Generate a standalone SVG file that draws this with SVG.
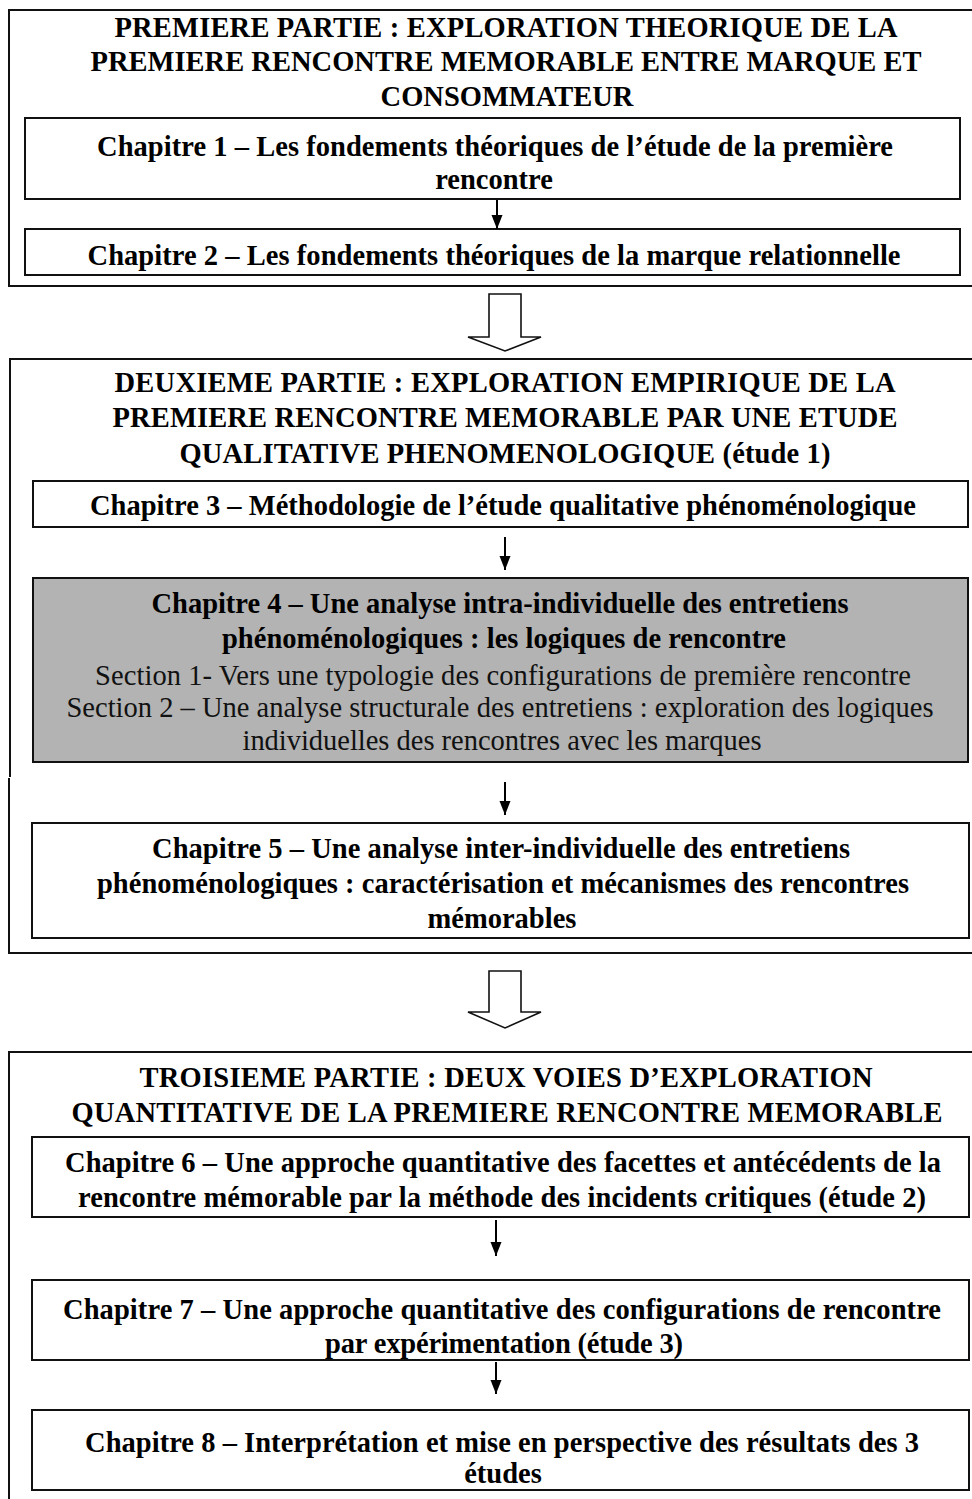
<svg xmlns="http://www.w3.org/2000/svg" width="972" height="1499" viewBox="0 0 972 1499">
  <style>
    .part { fill: none; stroke: #111; stroke-width: 2; }
    .box { fill: #fff; stroke: #111; stroke-width: 2; }
    .box.shaded { fill: #b3b3b3; }
    .t { font-family: "Liberation Serif", "Times New Roman", serif; font-size: 28.5px; font-weight: bold; fill: #000; text-anchor: middle; }
    .s { font-family: "Liberation Serif", "Times New Roman", serif; font-size: 28.5px; font-weight: normal; fill: #111; text-anchor: middle; }
    .link { stroke: #000; stroke-width: 2; fill: none; marker-end: url(#head); }
    .big { fill: #fff; stroke: #111; stroke-width: 1.6; stroke-linejoin: miter; }
  </style>
  <defs>
    <marker id="head" markerUnits="userSpaceOnUse" markerWidth="15" markerHeight="12" refX="14" refY="6" orient="auto" viewBox="0 0 15 12">
      <path d="M0,0.5 L14,6 L0,11.5 Z" fill="#000"/>
    </marker>
  </defs>
  <rect width="972" height="1499" fill="#fff"/>

  <!-- Part one -->
  <g id="part1">
    <rect class="part" x="9" y="10" width="1000" height="276"/>
    <text class="t" x="506" y="37" textLength="783">PREMIERE PARTIE : EXPLORATION THEORIQUE DE LA</text>
    <text class="t" x="506" y="71" textLength="831">PREMIERE RENCONTRE MEMORABLE ENTRE MARQUE ET</text>
    <text class="t" x="507" y="106">CONSOMMATEUR</text>
  </g>
  <g id="chap1">
    <rect class="box" x="25" y="118" width="935" height="81"/>
    <text class="t" x="495" y="156" textLength="796">Chapitre 1 – Les fondements théoriques de l’étude de la première</text>
    <text class="t" x="494" y="189">rencontre</text>
  </g>
  <g id="chap2">
    <rect class="box" x="25" y="229" width="935" height="46"/>
    <text class="t" x="494" y="265" textLength="813">Chapitre 2 – Les fondements théoriques de la marque relationnelle</text>
  </g>

  <!-- Part two -->
  <g id="part2">
    <path class="part" d="M1010,359 H10 V777 M9,778 V953 H1010"/>
    <text class="t" x="505" y="392" textLength="781">DEUXIEME PARTIE : EXPLORATION EMPIRIQUE DE LA</text>
    <text class="t" x="505" y="427" textLength="785">PREMIERE RENCONTRE MEMORABLE PAR UNE ETUDE</text>
    <text class="t" x="505" y="463" textLength="651">QUALITATIVE PHENOMENOLOGIQUE (étude 1)</text>
  </g>
  <g id="chap3">
    <rect class="box" x="33" y="481" width="935" height="46"/>
    <text class="t" x="503" y="515" textLength="826">Chapitre 3 – Méthodologie de l’étude qualitative phénoménologique</text>
  </g>
  <g id="chap4">
    <rect class="box shaded" x="33" y="578" width="935" height="184"/>
    <text class="t" x="500" y="613" textLength="697">Chapitre 4 – Une analyse intra-individuelle des entretiens</text>
    <text class="t" x="504" y="648" textLength="564">phénoménologiques : les logiques de rencontre</text>
    <text class="s" x="503" y="685" textLength="816">Section 1- Vers une typologie des configurations de première rencontre</text>
    <text class="s" x="500" y="717" textLength="867">Section 2 – Une analyse structurale des entretiens : exploration des logiques</text>
    <text class="s" x="502" y="750" textLength="519">individuelles des rencontres avec les marques</text>
  </g>
  <g id="chap5">
    <rect class="box" x="32" y="823" width="937" height="115"/>
    <text class="t" x="501" y="858" textLength="698">Chapitre 5 – Une analyse inter-individuelle des entretiens</text>
    <text class="t" x="503" y="893" textLength="812">phénoménologiques : caractérisation et mécanismes des rencontres</text>
    <text class="t" x="502" y="928">mémorables</text>
  </g>

  <!-- Part three -->
  <g id="part3">
    <rect class="part" x="9" y="1052" width="1000" height="460"/>
    <text class="t" x="506" y="1087" textLength="733">TROISIEME PARTIE : DEUX VOIES D’EXPLORATION</text>
    <text class="t" x="507" y="1122" textLength="871">QUANTITATIVE DE LA PREMIERE RENCONTRE MEMORABLE</text>
  </g>
  <g id="chap6">
    <rect class="box" x="32" y="1137" width="937" height="80"/>
    <text class="t" x="503" y="1172" textLength="876">Chapitre 6 – Une approche quantitative des facettes et antécédents de la</text>
    <text class="t" x="502" y="1207" textLength="848">rencontre mémorable par la méthode des incidents critiques (étude 2)</text>
  </g>
  <g id="chap7">
    <rect class="box" x="32" y="1280" width="937" height="80"/>
    <text class="t" x="502" y="1319" textLength="878">Chapitre 7 – Une approche quantitative des configurations de rencontre</text>
    <text class="t" x="504" y="1353" textLength="358">par expérimentation (étude 3)</text>
  </g>
  <g id="chap8">
    <rect class="box" x="32" y="1410" width="937" height="80"/>
    <text class="t" x="502" y="1452" textLength="834">Chapitre 8 – Interprétation et mise en perspective des résultats des 3</text>
    <text class="t" x="503" y="1483">études</text>
  </g>

  <!-- Connectors -->
  <g id="connectors">
    <line class="link" x1="497" y1="200" x2="497" y2="229"/>
    <line class="link" x1="505" y1="537" x2="505" y2="570"/>
    <line class="link" x1="505" y1="782" x2="505" y2="815"/>
    <line class="link" x1="496" y1="1220" x2="496" y2="1256"/>
    <line class="link" x1="496" y1="1362" x2="496" y2="1394"/>
    <path class="big" d="M489,294 H521 V337 H541 L505,351 L468,337 H489 Z"/>
    <path class="big" d="M489,971 H521 V1012 H541 L505,1028 L468,1012 H489 Z"/>
  </g>
</svg>
